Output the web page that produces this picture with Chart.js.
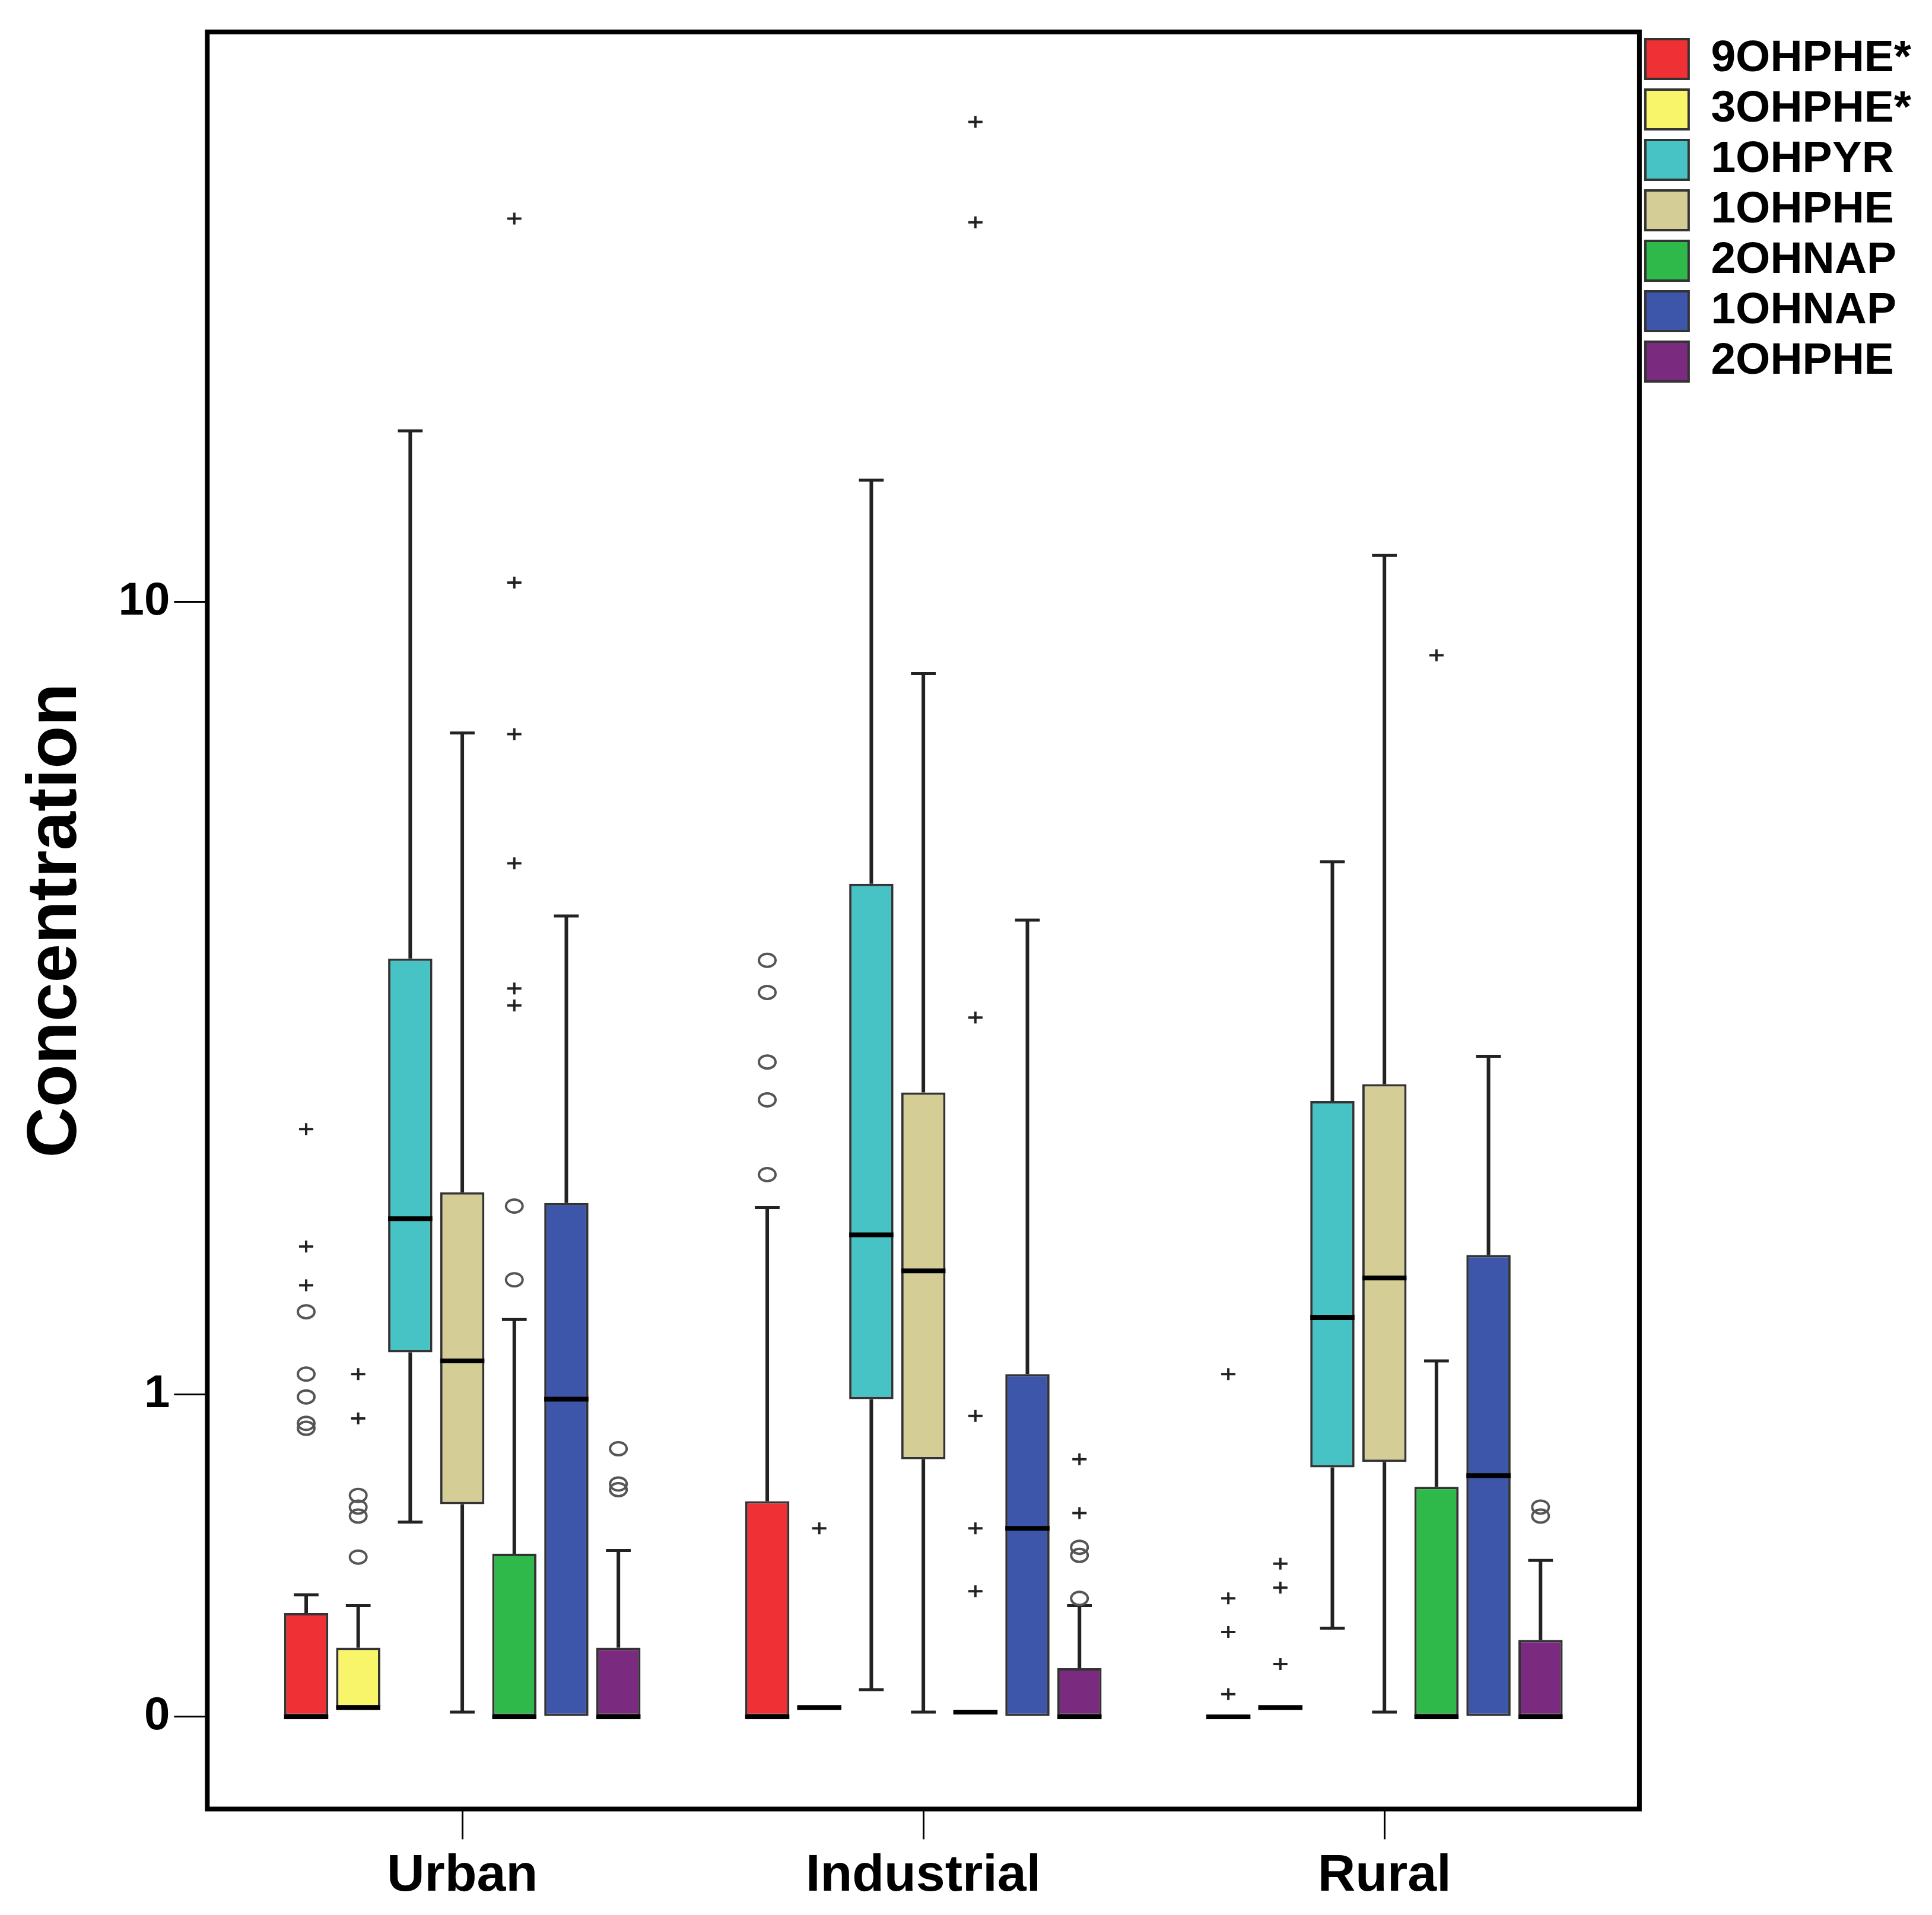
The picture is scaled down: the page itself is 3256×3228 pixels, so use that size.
<!DOCTYPE html>
<html>
<head>
<meta charset="utf-8">
<title>Concentration box plot</title>
<script src="https://cdn.jsdelivr.net/npm/chart.js@4.4.1/dist/chart.umd.min.js"></script>
<style>
  html, body { margin: 0; padding: 0; background: #fff; }
  canvas { display: block; }
</style>
</head>
<body>
<canvas id="chart" width="3256" height="3228"></canvas>
<script>
'use strict';

// categories and series
const CATEGORIES = ['Urban', 'Industrial', 'Rural'];
const SERIES = ['9OHPHE*', '3OHPHE*', '1OHPYR', '1OHPHE', '2OHNAP', '1OHNAP', '2OHPHE'];
const Y_TICKS = [0, 1, 10];
const Y_RANGE = [-0.18, 36.5];

// box statistics, one row per series, one column per category
const whiskerLow = [
  [0, 0, 0],
  [0.02, 0.02, 0.02],
  [0.52, 0.06, 0.21],
  [0.01, 0.01, 0.01],
  [0, 0.01, 0],
  [0, 0, 0],
  [0, 0, 0],
];
const q1 = [
  [0, 0, 0],
  [0.02, 0.02, 0.02],
  [1.19, 0.98, 0.71],
  [0.58, 0.74, 0.73],
  [0, 0.01, 0],
  [0, 0, 0],
  [0, 0, 0],
];
const median = [
  [0, 0, 0],
  [0.02, 0.02, 0.02],
  [1.92, 1.82, 1.36],
  [1.15, 1.61, 1.57],
  [0, 0.01, 0],
  [0.98, 0.50, 0.68],
  [0, 0, 0],
];
const q3 = [
  [0.25, 0.59, 0],
  [0.16, 0.02, 0.02],
  [4.11, 5.0, 2.76],
  [2.09, 2.83, 2.90],
  [0.42, 0.01, 0.64],
  [2.02, 1.09, 1.70],
  [0.16, 0.11, 0.18],
];
const whiskerHigh = [
  [0.30, 1.99, 0],
  [0.27, 0.02, 0.02],
  [14.9, 13.3, 5.29],
  [7.3, 8.43, 11.16],
  [1.35, 0.01, 1.15],
  [4.6, 4.55, 3.14],
  [0.43, 0.27, 0.40],
];
// outliers (circles) and extremes (plus signs)
const outliers = [
  [[0.86, 0.88, 0.99, 1.09, 1.39], [2.21, 2.77, 3.09, 3.75, 4.09], []],
  [[0.41, 0.54, 0.57, 0.61], [], []],
  [[], [], []],
  [[], [], []],
  [[1.56, 2.0], [], []],
  [[], [], []],
  [[0.63, 0.65, 0.78], [0.29, 0.415, 0.44], [0.54, 0.57]],
];
const extremes = [
  [[1.53, 1.75, 2.54], [], [0.05, 0.20, 0.29, 1.09]],
  [[0.90, 1.09], [0.50], [0.12, 0.32, 0.39]],
  [[], [], []],
  [[], [], []],
  [[3.62, 3.79, 5.27, 7.28, 10.47, 24.1], [0.31, 0.50, 0.91, 3.50, 23.9, 29.9], [8.81]],
  [[], [], []],
  [[], [0.55, 0.74], []],
];

const COLORS = ['#ef3035', '#f9f56a', '#47c2c5', '#d4cd95', '#2eb94a', '#3d56a9', '#7a2a7f'];
const FONT = 'Liberation Sans, Arial, Helvetica, sans-serif';

// y axis drawn as log10(value + 1)
const toLog = v => Math.log10(v + 1);

class Log1pScale extends Chart.LinearScale {
  static id = 'log1p';

  configure() {
    super.configure();
    this._startValue = toLog(this.min);
    this._valueRange = toLog(this.max) - toLog(this.min);
  }

  getPixelForValue(value) {
    if (value === null || value === undefined || isNaN(value)) return NaN;
    return this.getPixelForDecimal((toLog(value) - this._startValue) / this._valueRange);
  }

  getValueForPixel(pixel) {
    const d = this.getDecimalForPixel(pixel);
    return Math.pow(10, this._startValue + d * this._valueRange) - 1;
  }
}
Chart.register(Log1pScale);

// whiskers, medians and outlier marks, placed on each bar element
const boxPlotPlugin = {
  id: 'boxPlot',
  afterDatasetsDraw(chart) {
    const { ctx, scales: { y } } = chart;
    ctx.save();
    chart.data.datasets.forEach((ds, s) => {
      const meta = chart.getDatasetMeta(s);
      meta.data.forEach((bar, g) => {
        const x = bar.x;
        const w = bar.width;
        const cap = w * 0.28;
        const py = v => y.getPixelForValue(v);

        ctx.strokeStyle = '#222';
        ctx.lineCap = 'butt';

        // upper whisker
        if (whiskerHigh[s][g] > q3[s][g]) {
          ctx.lineWidth = 6;
          ctx.beginPath();
          ctx.moveTo(x, py(q3[s][g]));
          ctx.lineTo(x, py(whiskerHigh[s][g]));
          ctx.stroke();
          ctx.lineWidth = 5;
          ctx.beginPath();
          ctx.moveTo(x - cap, py(whiskerHigh[s][g]));
          ctx.lineTo(x + cap, py(whiskerHigh[s][g]));
          ctx.stroke();
        }
        // lower whisker
        if (whiskerLow[s][g] < q1[s][g]) {
          ctx.lineWidth = 6;
          ctx.beginPath();
          ctx.moveTo(x, py(q1[s][g]));
          ctx.lineTo(x, py(whiskerLow[s][g]));
          ctx.stroke();
          ctx.lineWidth = 5;
          ctx.beginPath();
          ctx.moveTo(x - cap, py(whiskerLow[s][g]));
          ctx.lineTo(x + cap, py(whiskerLow[s][g]));
          ctx.stroke();
        }

        // median
        ctx.strokeStyle = '#000';
        ctx.lineWidth = 8;
        ctx.beginPath();
        ctx.moveTo(x - w / 2, py(median[s][g]));
        ctx.lineTo(x + w / 2, py(median[s][g]));
        ctx.stroke();

        // outliers
        ctx.strokeStyle = '#555';
        ctx.lineWidth = 4;
        outliers[s][g].forEach(v => {
          ctx.beginPath();
          ctx.ellipse(x, py(v), 14, 11, 0, 0, Math.PI * 2);
          ctx.stroke();
        });

        // extremes
        ctx.strokeStyle = '#222';
        ctx.lineWidth = 4;
        extremes[s][g].forEach(v => {
          const yy = py(v);
          ctx.beginPath();
          ctx.moveTo(x - 12, yy);
          ctx.lineTo(x + 12, yy);
          ctx.moveTo(x, yy - 10);
          ctx.lineTo(x, yy + 10);
          ctx.stroke();
        });
      });
    });
    ctx.restore();
  },
};

// frame around the plot area
const framePlugin = {
  id: 'frame',
  afterDraw(chart) {
    const { ctx, chartArea: a } = chart;
    ctx.save();
    ctx.strokeStyle = '#000';
    ctx.lineWidth = 8;
    ctx.strokeRect(a.left, a.top, a.right - a.left, a.bottom - a.top);
    ctx.restore();
  },
};

const datasets = SERIES.map((name, s) => ({
  label: name,
  data: CATEGORIES.map((c, g) => ({ x: g, y: [q1[s][g], q3[s][g]] })),
  backgroundColor: COLORS[s],
  borderColor: '#333',
  borderWidth: 4,
  borderSkipped: false,
  categoryPercentage: 0.79,
  barPercentage: 0.85,
}));

new Chart(document.getElementById('chart'), {
  type: 'bar',
  data: { datasets },
  plugins: [boxPlotPlugin, framePlugin],
  options: {
    responsive: false,
    devicePixelRatio: 1,
    animation: false,
    layout: { padding: { left: 25, top: 52, right: 25, bottom: 2 } },
    plugins: {
      tooltip: { enabled: false },
      legend: {
        position: 'right',
        align: 'start',
        labels: {
          boxWidth: 73,
          boxHeight: 67,
          padding: 10,
          color: '#000',
          font: { size: 75, weight: 'bold', family: FONT },
        },
      },
    },
    scales: {
      x: {
        type: 'linear',
        bounds: 'data',
        offset: false,
        min: -0.553,
        max: 2.553,
        afterBuildTicks: scale => {
          scale.ticks = CATEGORIES.map((c, i) => ({ value: i }));
        },
        ticks: {
          callback: v => CATEGORIES[v],
          color: '#000',
          padding: 10,
          maxRotation: 0,
          font: { size: 88, weight: 'bold', family: FONT },
        },
        grid: { offset: false, drawOnChartArea: false, tickLength: 51, lineWidth: 3, color: '#000' },
        border: { display: false },
      },
      y: {
        type: 'log1p',
        bounds: 'data',
        min: Y_RANGE[0],
        max: Y_RANGE[1],
        afterBuildTicks: scale => {
          scale.ticks = Y_TICKS.map(v => ({ value: v }));
        },
        ticks: {
          callback: v => String(v),
          color: '#000',
          padding: 7,
          font: { size: 78, weight: 'bold', family: FONT },
        },
        grid: { drawOnChartArea: false, tickLength: 56, lineWidth: 3, color: '#000' },
        border: { display: false },
        title: {
          display: true,
          text: 'Concentration',
          color: '#000',
          padding: { top: 0, bottom: 26 },
          font: { size: 118, weight: 'bold', family: FONT },
        },
      },
    },
  },
});
</script>
</body>
</html>
